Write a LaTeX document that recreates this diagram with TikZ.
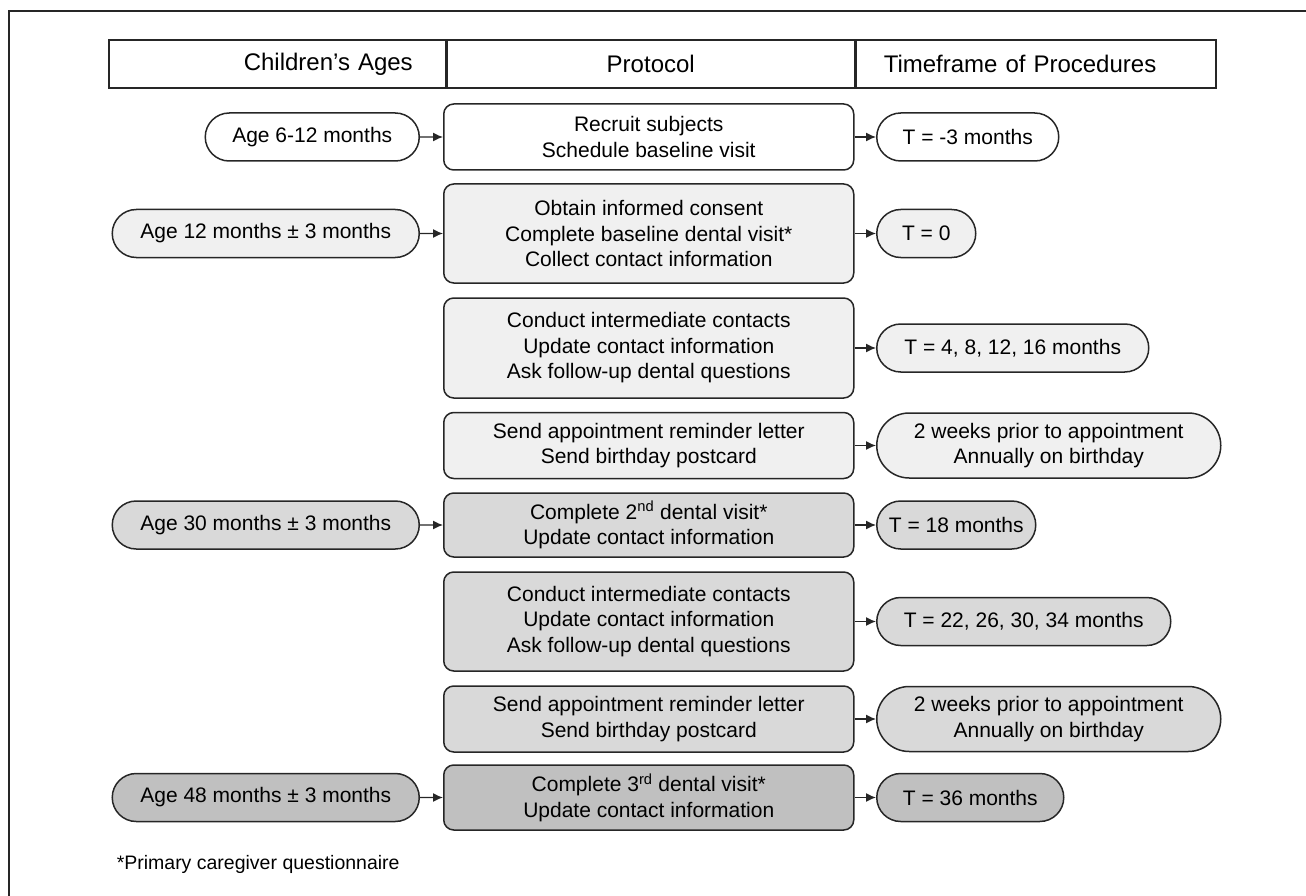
\documentclass[tikz,border=0pt]{standalone}
\usepackage{fontspec}
\setmainfont{Liberation Sans}
\usetikzlibrary{arrows.meta, shapes.misc}

\definecolor{inkline}{HTML}{262626}
\definecolor{shadeA}{HTML}{F0F0F0}
\definecolor{shadeB}{HTML}{D9D9D9}
\definecolor{shadeC}{HTML}{C0C0C0}

\begin{document}
\begin{tikzpicture}[
x=1pt, y=-1pt,
line width=1.5pt,
draw=inkline,
every node/.style={font=\fontsize{21}{25.5}\selectfont, text=black},
agenode/.style={
rounded rectangle,
draw=inkline,
minimum height=48pt,
inner sep=0pt,
anchor=east,
},
stepbox/.style={
rectangle,
rounded corners=10pt,
draw=inkline,
align=center,
minimum width=410pt,
inner sep=0pt,
anchor=west,
},
timenode/.style={
rounded rectangle,
draw=inkline,
align=center,
minimum height=48pt,
inner sep=0pt,
anchor=west,
},
headcell/.style={
rectangle,
draw=inkline,
minimum height=48pt,
inner ysep=0pt,
anchor=west,
font=\fontsize{24}{24}\selectfont,
},
link/.style={draw=inkline, line width=1.3pt, arrows={-Latex[length=10pt,width=9pt]}},
]
\useasboundingbox (0,0) rectangle (1306,896);

% frame
\draw[inkline] (9,896) -- (9,11) -- (1306,11);

% header row
\node [headcell, minimum width=337pt, text width=271pt, inner xsep=33pt, align=right]
at (108,64) (hages) {Children's Ages};
\node [headcell, minimum width=407pt, text width=391pt, inner xsep=8pt, align=center]
at (hages.east) (hprot) {Protocol};
\node [headcell, minimum width=360pt, text width=304pt, inner xsep=28pt, align=left]
at (hprot.east) (htime) {Timeframe of Procedures};

% row 1
\node [agenode, minimum width=214pt] at (420,137) (age1) {Age 6-12 months};
\node [stepbox, minimum height=66pt] at (443,137) (step1)
{Recruit subjects\\Schedule baseline visit};
\node [timenode, minimum width=182pt] at (876,137) (time1) {T = -3 months};

% row 2
\node [agenode, fill=shadeA, minimum width=307pt] at (420,233.5) (age2)
{Age 12 months ± 3 months};
\node [stepbox, fill=shadeA, minimum height=99pt] at (443,233.5) (step2)
{Obtain informed consent\\Complete baseline dental visit*\\Collect contact information};
\node [timenode, fill=shadeA, minimum width=99pt] at (876,233.5) (time2) {T = 0};

% row 3
\node [stepbox, fill=shadeA, minimum height=100pt] at (443,348) (step3)
{Conduct intermediate contacts\\Update contact information\\Ask follow-up dental questions};
\node [timenode, fill=shadeA, minimum width=272pt] at (876,348) (time3)
{T = 4, 8, 12, 16 months};

% row 4
\node [stepbox, fill=shadeA, minimum height=66pt] at (443,445.5) (step4)
{Send appointment reminder letter\\Send birthday postcard};
\node [timenode, fill=shadeA, minimum width=344pt, minimum height=65pt] at (876,445.5) (time4)
{2 weeks prior to appointment\\Annually on birthday};

% row 5
\node [agenode, fill=shadeB, minimum width=307pt] at (420,525) (age5)
{Age 30 months ± 3 months};
\node [stepbox, fill=shadeB, minimum height=64pt] at (443,525) (step5)
{Complete 2\textsuperscript{nd} dental visit*\\Update contact information};
\node [timenode, fill=shadeB, minimum width=159pt] at (876,525) (time5) {T = 18 months};

% row 6
\node [stepbox, fill=shadeB, minimum height=99pt] at (443,621.5) (step6)
{Conduct intermediate contacts\\Update contact information\\Ask follow-up dental questions};
\node [timenode, fill=shadeB, minimum width=294pt] at (876,621.5) (time6)
{T = 22, 26, 30, 34 months};

% row 7
\node [stepbox, fill=shadeB, minimum height=66pt] at (443,719) (step7)
{Send appointment reminder letter\\Send birthday postcard};
\node [timenode, fill=shadeB, minimum width=344pt, minimum height=65pt] at (876,719) (time7)
{2 weeks prior to appointment\\Annually on birthday};

% row 8
\node [agenode, fill=shadeC, minimum width=307pt] at (420,797.5) (age8)
{Age 48 months ± 3 months};
\node [stepbox, fill=shadeC, minimum height=65pt] at (443,797.5) (step8)
{Complete 3\textsuperscript{rd} dental visit*\\Update contact information};
\node [timenode, fill=shadeC, minimum width=187pt] at (876,797.5) (time8) {T = 36 months};

% connectors
\draw [link] (age1) -- (step1);
\draw [link] (age2) -- (step2);
\draw [link] (age5) -- (step5);
\draw [link] (age8) -- (step8);
\draw [link] (step1) -- (time1);
\draw [link] (step2) -- (time2);
\draw [link] (step3) -- (time3);
\draw [link] (step4) -- (time4);
\draw [link] (step5) -- (time5);
\draw [link] (step6) -- (time6);
\draw [link] (step7) -- (time7);
\draw [link] (step8) -- (time8);

% footnote
\node [anchor=west, inner sep=0pt, font=\fontsize{19.5}{19.5}\selectfont] at (116,864) (note)
{*Primary caregiver questionnaire};

\end{tikzpicture}
\end{document}
